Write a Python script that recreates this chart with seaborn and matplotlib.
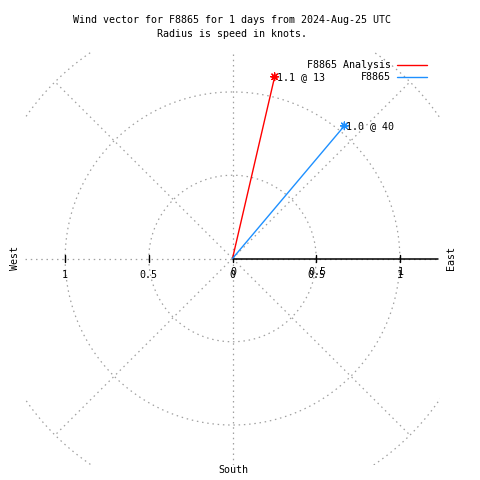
import numpy as np
import pandas as pd
import matplotlib
matplotlib.use("Agg")
import matplotlib.pyplot as plt
import seaborn as sns

# data
series = ["F8865 Analysis", "F8865"]
speeds = [1.12, 1.04]          # knots
directions = [13, 40]          # degrees from north
colors = ["#ff0000", "#1e90ff"]
ring_radii = [0.5, 1.0, 1.5]
spoke_angles = [45, 135, 225, 315]
tick_values = [-1, -0.5, 0, 0.5, 1]
tick_labels = ["1", "0.5", "0", "0.5", "1"]

title = "Wind vector for F8865 for 1 days from 2024-Aug-25 UTC\nRadius is speed in knots."

sns.set_style("white")
plt.rcParams['font.family'] = ['DejaVu Sans Mono']
plt.rcParams['text.color'] = 'black'
FS = 7.2
LIM = 1.24

fig = plt.figure(figsize=(4.8, 4.8), dpi=100)
ax = fig.add_axes([25 / 480, 15 / 480, 415 / 480, 413 / 480])
ax.set_xlim(-LIM, LIM)
ax.set_ylim(-LIM, LIM)
ax.axis("off")

grid_kw = dict(color="#a0a0a0", lw=0.9, ls=(0, (1.2, 3.0)))

# rings
theta = np.linspace(0, 2 * np.pi, 400)
for r in ring_radii:
    ax.plot(r * np.cos(theta), r * np.sin(theta), clip_on=True, **grid_kw)
# spokes
for a in spoke_angles:
    rad = np.deg2rad(a)
    ax.plot([0, 1.5 * np.cos(rad)], [0, 1.5 * np.sin(rad)], **grid_kw)
ax.plot([-LIM, LIM], [0, 0], **grid_kw)
ax.plot([0, 0], [-LIM, LIM], **grid_kw)

# r axis
ax.plot([0, 1.228], [0, 0], color="black", lw=1.1)
for v in tick_values:
    ax.plot([v, v], [-0.022, 0.022], color="black", lw=1)

for v, lab in zip(tick_values, tick_labels):
    ax.text(v, -0.10, lab, ha="center", va="center", fontsize=FS)
    if v >= 0:
        ax.text(v + 0.006, -0.082, lab, ha="center", va="center", fontsize=FS)

# vectors
rows = []
for name, s, d in zip(series, speeds, directions):
    rad = np.deg2rad(d)
    rows.append({"series": name, "x": 0.0, "y": 0.0, "seg": name})
    rows.append({"series": name, "x": s * np.sin(rad), "y": s * np.cos(rad), "seg": name})
df = pd.DataFrame(rows)
palette = dict(zip(series, colors))

sns.lineplot(data=df, x="x", y="y", hue="series", palette=palette, sort=False,
             estimator=None, units="seg", lw=1.0, ax=ax, legend=True)
tips = df.iloc[1::2]
sns.scatterplot(data=tips, x="x", y="y", hue="series", palette=palette,
                marker=(8, 2, 0), s=30, linewidth=0.9, ax=ax, legend=False)
for row, s, d in zip(tips.itertuples(), speeds, directions):
    ax.text(row.x + 0.012, row.y, f"{s:.1f} @ {d}", fontsize=FS, ha="left", va="center")

ax.set_xlabel("")
ax.set_ylabel("")
handles, labels = ax.get_legend_handles_labels()
leg = ax.legend(handles, labels, loc="upper right", bbox_to_anchor=(432 / 480, 1 - 55 / 480),
                bbox_transform=fig.transFigure, frameon=False, markerfirst=False,
                fontsize=FS, handlelength=3.0, handletextpad=0.6, labelspacing=0.2,
                borderpad=0)
for t in leg.get_texts():
    t.set_ha("right")
    t.set_color("black")

# labels
fig.text(232 / 480, 1 - 27 / 480, title, ha="center", va="center", fontsize=FS, linespacing=1.4)
fig.text(15 / 480, 1 - 258 / 480, "West", rotation=90, ha="center", va="center", fontsize=FS)
fig.text(451 / 480, 1 - 258 / 480, "East", rotation=90, ha="center", va="center", fontsize=FS)
fig.text(233 / 480, 1 - 470 / 480, "South", ha="center", va="center", fontsize=FS)

fig.savefig("out.png", dpi=100, facecolor="white")
